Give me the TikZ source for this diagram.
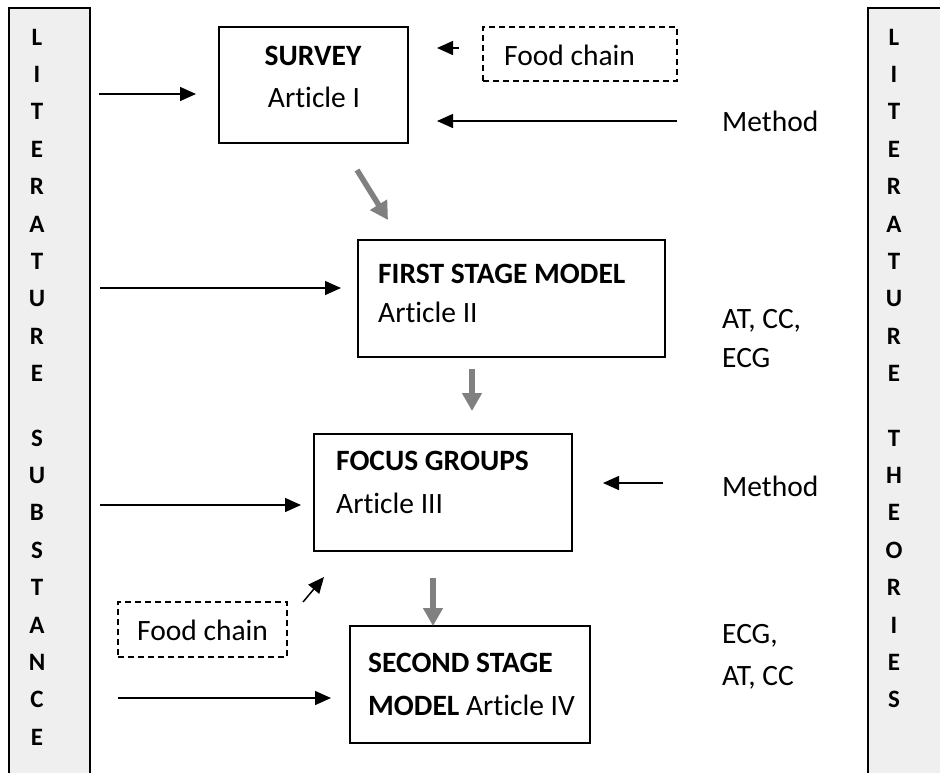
\documentclass[tikz,border=0pt]{standalone}
\usepackage{fontspec}
\setmainfont{Carlito}[Ligatures=NoCommon]
\usetikzlibrary{arrows.meta}
\definecolor{colfill}{HTML}{EFEFEF}
\definecolor{flowgray}{HTML}{808080}

\begin{document}
\begin{tikzpicture}[x=1pt,y=-1pt,
  colbox/.style={draw=black, line width=1.6pt, fill=colfill, inner sep=0pt, anchor=north west},
  colletter/.style={font=\fontsize{25}{28}\selectfont\bfseries, inner sep=0pt},
  stagebox/.style={draw=black, line width=2pt, inner sep=0pt},
  dashbox/.style={draw=black, line width=1.5pt, dash pattern=on 6pt off 4pt, inner sep=0pt},
  lbl/.style={font=\fontsize{29.5}{34}\selectfont, inner sep=0pt, anchor=base west},
  inarrow/.style={draw=black, line width=1.5pt, -{Triangle[length=16pt,width=14pt]}},
  flowarrow/.style={draw=flowgray, line width=5.5pt, -{Triangle[length=18pt,width=19pt]}}]

\useasboundingbox (0,0) rectangle (940,772);

% side columns
\node[colbox, minimum width=81pt, minimum height=800pt] (litL) at (8,7) {};
\node[colbox, minimum width=100pt, minimum height=800pt] (litR) at (867,7) {};

\foreach \ch [count=\i from 0] in {L,I,T,E,R,A,T,U,R,E}{
  \node[colletter] (lL\i) at (37, 37+37.4*\i) {\ch};
  \node[colletter] (rL\i) at (894, 37+37.4*\i) {\ch};
}
\foreach \ch [count=\i from 0] in {S,U,B,S,T,A,N,C,E}
  \node[colletter] (lS\i) at (37, 438+37.4*\i) {\ch};
\foreach \ch [count=\i from 0] in {T,H,E,O,R,I,E,S}
  \node[colletter] (rT\i) at (894, 438+37.4*\i) {\ch};

% stage boxes
\node[stagebox, minimum width=189pt, minimum height=116pt] (survey) at (313.5,85) {};
\node[stagebox, minimum width=307pt, minimum height=117pt] (first) at (511,298.5) {};
\node[stagebox, minimum width=258pt, minimum height=117pt] (focus) at (443,492.5) {};
\node[stagebox, minimum width=240pt, minimum height=117pt] (second) at (470,684.5) {};

% dashed boxes
\node[dashbox, minimum width=194pt, minimum height=54pt] (foodA) at (580,54) {};
\node[dashbox, minimum width=169pt, minimum height=55pt] (foodB) at (202.5,629.5) {};

% texts
\node[lbl, anchor=base] (tSurvey) at (313,65) {\bfseries SURVEY};
\node[lbl, anchor=base] (tArtI) at (314,107) {Article I};
\node[lbl] (tFoodA) at (504,65) {Food chain};
\node[lbl] (tMethodA) at (722,131) {Method};
\node[lbl] (tFirst) at (378,283) {\bfseries FIRST STAGE MODEL};
\node[lbl] (tArtII) at (378,322) {Article II};
\node[lbl] (tAtA) at (722,328) {AT, CC,};
\node[lbl] (tEcgA) at (722,367) {ECG};
\node[lbl] (tFocus) at (336,470) {\bfseries FOCUS GROUPS};
\node[lbl] (tArtIII) at (336,513) {Article III};
\node[lbl] (tMethodB) at (722,496) {Method};
\node[lbl] (tFoodB) at (137,640) {Food chain};
\node[lbl] (tSecond) at (368,672) {\bfseries SECOND STAGE};
\node[lbl] (tArtIV) at (368,715) {\bfseries MODEL\mdseries{} Article IV};
\node[lbl] (tEcgB) at (722,643) {ECG,};
\node[lbl] (tAtB) at (722,685) {AT, CC};

% free ends of the connectors
\coordinate (s1) at (99,94);    \coordinate (e1) at (196,94);
\coordinate (s2) at (459,48);   \coordinate (e2) at (437,48);
\coordinate (s3) at (677,121);  \coordinate (e3) at (437,121);
\coordinate (s4) at (357,170);  \coordinate (e4) at (388,220);
\coordinate (s5) at (100,288);  \coordinate (e5) at (341,288);
\coordinate (s6) at (472,369);  \coordinate (e6) at (472,411);
\coordinate (s7) at (100,505);  \coordinate (e7) at (301,505);
\coordinate (s8) at (663,483);  \coordinate (e8) at (603,483);
\coordinate (s9) at (433,578);  \coordinate (e9) at (433,626);
\coordinate (s10) at (303,602); \coordinate (e10) at (324,577);
\coordinate (s11) at (118,698); \coordinate (e11) at (331,698);

% connectors
\draw[inarrow] (s1) -- (e1);
\draw[inarrow] (s2) -- (e2);
\draw[inarrow] (s3) -- (e3);
\draw[flowarrow] (s4) -- (e4);
\draw[inarrow] (s5) -- (e5);
\draw[flowarrow] (s6) -- (e6);
\draw[inarrow] (s7) -- (e7);
\draw[inarrow] (s8) -- (e8);
\draw[flowarrow] (s9) -- (e9);
\draw[inarrow] (s10) -- (e10);
\draw[inarrow] (s11) -- (e11);

\end{tikzpicture}
\end{document}
